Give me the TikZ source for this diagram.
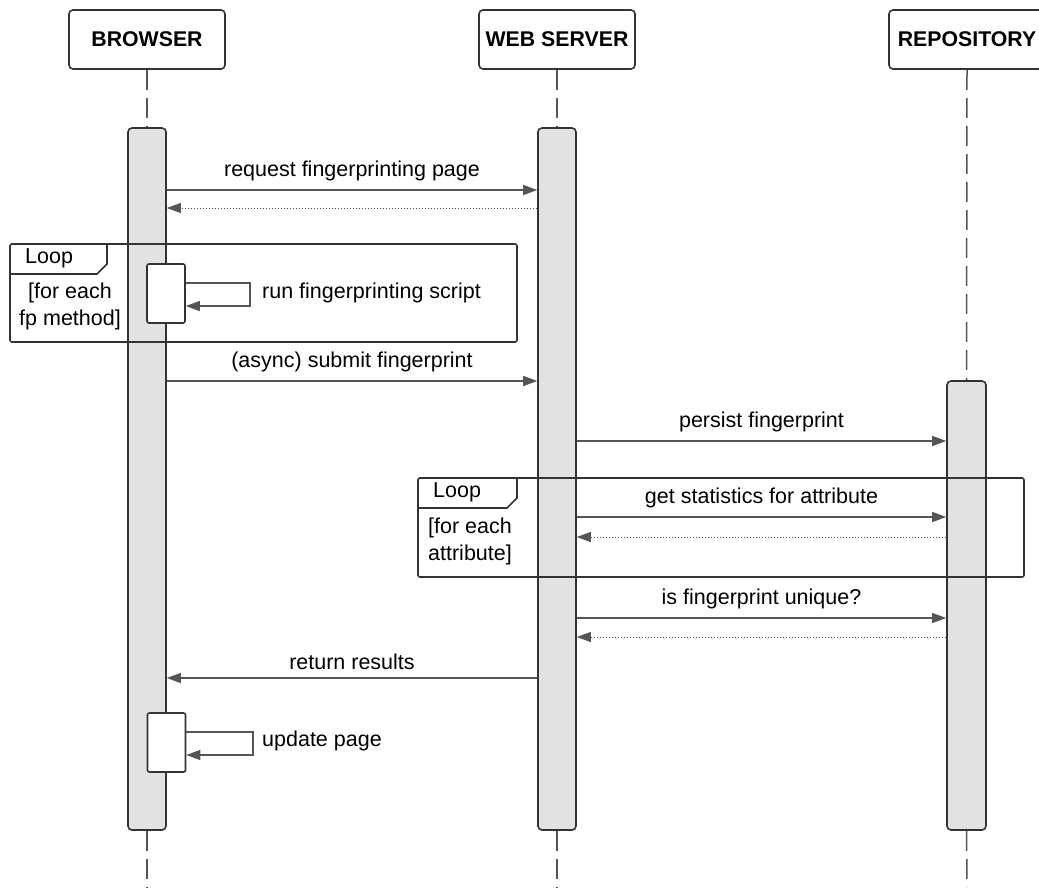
\documentclass[tikz,border=0pt]{standalone}
\usepackage{fontspec}
\setmainfont{Liberation Sans}
\usetikzlibrary{arrows.meta}
\definecolor{lineclr}{HTML}{555555}
\definecolor{boxclr}{HTML}{333333}
\definecolor{barfill}{HTML}{E2E2E2}
\tikzset{
  headbox/.style={draw=boxclr, line width=1.6pt, rounded corners=4pt, minimum width=156pt, minimum height=59pt, font=\fontsize{21.3}{25}\selectfont\bfseries, fill=white},
  actbar/.style={draw=boxclr, line width=1.6pt, rounded corners=4pt, minimum width=38pt, fill=barfill, inner sep=0pt},
  selfbox/.style={draw=boxclr, line width=1.6pt, rounded corners=2pt, minimum width=38pt, minimum height=59pt, fill=white, inner sep=0pt},
  lifeline/.style={draw=lineclr, line width=1.5pt, dash pattern=on 20pt off 8pt},
  msg/.style={draw=lineclr, line width=1.5pt, -{Triangle[length=14pt,width=10pt]}},
  ret/.style={draw=lineclr, line width=1pt, dash pattern=on 1.5pt off 1.5pt, -{Triangle[length=14pt,width=10pt,line width=1pt]}},
  lbl/.style={font=\fontsize{21.5}{25}\selectfont, text=black, inner sep=0pt},
  guard/.style={font=\fontsize{21.5}{27}\selectfont, text=black, align=center, inner sep=0pt},
  frame/.style={draw=boxclr, line width=1.6pt, rounded corners=2pt},
}
\begin{document}
\begin{tikzpicture}[x=1pt,y=-1pt]
\useasboundingbox (0,0) rectangle (1039,887);
\clip (0,0) rectangle (1039,887);
% heads
\node[headbox] (hA) at (147,39.5) {BROWSER};
\node[headbox] (hB) at (557,39.5) {WEB SERVER};
\node[headbox] (hC) at (967,39.5) {REPOSITORY};
% bars
\node[actbar, minimum height=702pt] (bA) at (147,479) {};
\node[actbar, minimum height=702pt] (bB) at (557,479) {};
\node[actbar, minimum height=449pt, minimum width=39pt] (bC) at (966.5,605.5) {};
% lifelines
\coordinate (eA) at (147,887);
\coordinate (eB) at (557,887);
\coordinate (eC) at (967,887);
\draw[lifeline] (hA.south) -- (bA.north);
\draw[lifeline] (hB.south) -- (bB.north);
\draw[lifeline] (hC.south) -- (bC.north);
\draw[lifeline] (bA.south) -- (eA);
\draw[lifeline] (bB.south) -- (eB);
\draw[lifeline] (bC.south) -- (eC);
% messages
\draw[msg] (bA.east |- 0,190) -- node[lbl, above=8pt] {request fingerprinting page} (bB.west |- 0,190);
\draw[ret] (bB.west |- 0,208) -- (bA.east |- 0,208);
% self call 1
\node[selfbox] (sA1) at (166,293.5) {};
\coordinate (tA1) at (250,283);
\draw[msg] (sA1.east |- tA1) -- (tA1) |- (sA1.east |- 0,306);
\node[lbl, anchor=west] (lA1) at (262,293) {run fingerprinting script};
% loop 1
\draw[frame] (10,244) rectangle (517,342);
\draw[frame, rounded corners=0pt] (10,274) -- (97,274) -- (107,264) -- (107,244);
\node[lbl, anchor=west] (loop1) at (25,258) {Loop};
\node[guard] (g1) at (70,306.5) {[for each\\fp method]};
% async submit
\draw[msg] (bA.east |- 0,381) -- node[lbl, above=8pt] {(async) submit fingerprint} (bB.west |- 0,381);
% persist
\draw[msg] (bB.east |- 0,441) -- node[lbl, above=8pt] {persist fingerprint} (bC.west |- 0,441);
% loop 2
\draw[msg] (bB.east |- 0,517) -- node[lbl, above=8pt] {get statistics for attribute} (bC.west |- 0,517);
\draw[ret] (bC.west |- 0,537) -- (bB.east |- 0,537);
\draw[frame] (418,478) rectangle (1024,577);
\draw[frame, rounded corners=0pt] (418,508) -- (507,508) -- (517,498) -- (517,478);
\node[lbl, anchor=west] (loop2) at (433,492) {Loop};
\node[guard] (g2) at (470,541) {[for each\\attribute]};
% unique
\draw[msg] (bB.east |- 0,618) -- node[lbl, above=8pt] {is fingerprint unique?} (bC.west |- 0,618);
\draw[ret] (bC.west |- 0,637) -- (bB.east |- 0,637);
% return results
\draw[msg] (bB.west |- 0,678) -- node[lbl, above=8pt] {return results} (bA.east |- 0,678);
% self call 2
\node[selfbox] (sA2) at (166.5,742.5) {};
\coordinate (tA2) at (253,732);
\draw[msg] (sA2.east |- tA2) -- (tA2) |- (sA2.east |- 0,755);
\node[lbl, anchor=west] (lA2) at (262,741) {update page};
\end{tikzpicture}
\end{document}
